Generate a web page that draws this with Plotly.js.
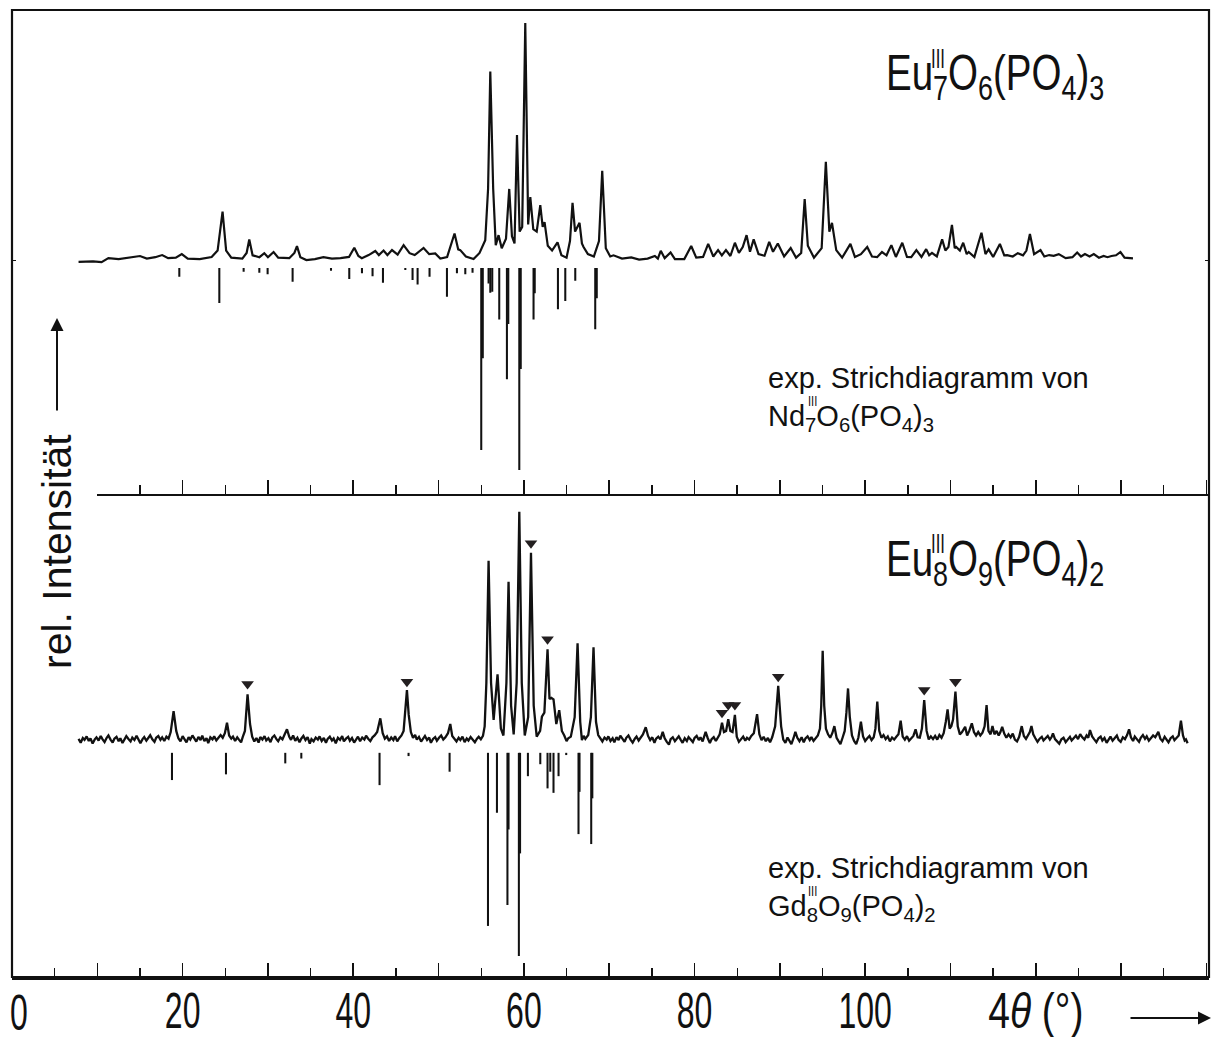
<!DOCTYPE html>
<html><head><meta charset="utf-8">
<script src="https://cdn.plot.ly/plotly-3.0.1.min.js"></script>
<style>html,body{margin:0;padding:0;background:#fff}#chart{width:1212px;height:1037px}</style>
</head><body><div id="chart"></div>
<script>
// ---------------- DATA (4θ in °, relative intensities) ----------------
// measured powder pattern, Eu7O6(PO4)3  [4θ, I]
const topProfile = [
[7.8,-0.8],[9.5,-0.6],[10.5,-0.9],[11.3,0.8],[12.5,0.4],[13.8,1.0],[15.0,1.7],[15.8,0.6],[16.8,1.2],[17.6,2.1],
[18.3,0.8],[19.2,1.0],[19.9,2.5],[20.6,0.6],[22.0,0.4],[23.4,1.3],[24.1,4.0],[24.68,20.4],[25.1,4.0],[25.7,1.0],
[27.0,0.6],[27.5,3.0],[27.81,8.7],[28.2,2.0],[29.0,1.2],[29.57,2.9],[30.0,1.2],[30.66,3.4],[31.2,1.0],[32.5,0.8],
[33.1,3.0],[33.4,5.9],[33.8,1.2],[34.5,0.0],[35.5,0.4],[36.5,1.2],[37.5,0.6],[38.5,0.8],[39.5,1.3],[40.12,5.2],
[40.6,1.7],[41.0,0.8],[41.8,2.1],[42.58,3.8],[43.0,2.1],[43.55,4.0],[44.0,2.1],[44.54,4.2],[45.2,2.3],[45.9,6.3],
[46.6,2.9],[47.2,2.1],[48.24,5.1],[48.9,2.5],[49.61,2.8],[50.2,0.6],[51.0,1.3],[51.87,11.2],[52.3,4.5],[52.54,4.2],
[53.2,1.5],[54.1,0.4],[54.8,3.0],[55.47,8.4],[55.8,30],[56.06,79.5],[56.4,30],[56.7,6.3],[57.03,10.5],[57.4,5.0],
[57.9,9],[58.28,30],[58.6,10],[58.9,7],[59.19,52.7],[59.5,12],[59.8,14],[60.16,100],[60.5,15],[60.75,26.6],
[61.1,13],[61.5,12],[61.92,23.2],[62.2,14],[62.42,16],[62.8,6],[63.3,4],[63.94,7.5],[64.4,2],[65.0,1],
[65.4,8],[65.70,24.1],[66.0,12],[66.52,15.7],[66.8,7],[66.99,5.5],[67.5,2.5],[68.2,1.5],[68.8,8],[69.18,37.7],
[69.6,5],[70.12,1.5],[70.5,2.0],[71.5,0.6],[72.58,1.1],[73.5,0.2],[74.5,0.6],[75.35,1.7],[75.7,0.6],[76.04,3.9],
[76.5,0.8],[77.19,3.2],[77.7,0.4],[78.8,0.4],[79.61,5.9],[80.2,1.0],[81.0,1.3],[81.6,6.8],[82.2,1.5],[82.76,4.2],
[83.2,2.0],[83.68,4.2],[84.2,1.7],[84.73,7.3],[85.2,3.0],[85.65,5.5],[86.10,10.5],[86.5,3.5],[86.93,8.7],[87.5,2.5],
[88.2,1.8],[88.75,7.7],[89.2,3.5],[89.76,7.0],[90.5,1.5],[91.27,5.1],[91.9,1.0],[92.5,3],[92.91,25.7],[93.28,6.0],
[94.0,1.0],[94.9,5],[95.39,41.5],[95.8,12],[96.11,15.7],[96.61,4.2],[97.3,1.0],[98.27,6.8],[98.8,1.3],[99.5,2.5],
[100.24,5.5],[100.8,1.5],[101.4,1.2],[101.97,3.4],[102.5,2.0],[103.07,6.3],[103.6,1.3],[104.35,7.3],[104.9,1.3],[105.4,1.2],
[106.0,4.2],[106.6,1.3],[107.15,4.6],[107.5,2.0],[107.83,3.0],[108.4,1.5],[109.02,8.7],[109.4,4],[109.76,5.5],[110.17,14.8],
[110.5,5],[110.67,5.5],[111.1,4],[111.49,7.3],[111.9,2.5],[112.13,3.4],[112.8,1.3],[113.63,11.5],[114.1,2.5],[114.47,4.5],
[115.0,1.3],[115.79,6.8],[116.3,2.0],[116.64,2.1],[117.3,1.5],[117.89,2.9],[118.5,2.0],[118.9,4],[119.31,11],[119.8,2.5],
[120.55,4.2],[121.0,1.5],[121.56,2.1],[122.1,1.8],[122.69,2.5],[123.5,0.8],[124.3,1.2],[124.85,3.2],[125.3,1.5],[125.76,2.5],
[126.3,1.5],[126.80,2.5],[127.4,1.0],[127.95,1.7],[128.4,1.2],[128.87,1.7],[129.4,2.0],[129.92,3.4],[130.4,1.0],[131.39,0.7]
];
// line diagram Nd7O6(PO4)3  [4θ, I]
const topSticks = [
[19.61,4.3],[24.30,17.3],[27.15,1.8],[28.99,2.3],[29.96,3.1],[32.89,6.8],[37.39,1.3],[39.53,5.4],[41.02,2.6],[42.26,4.0],
[43.48,7.3],[46.10,1.0],[46.95,5.9],[47.54,8.1],[48.94,4.3],[50.98,14.2],[52.15,2.6],[53.13,3.0],[53.98,2.3],[55.00,90.1],
[55.18,44.6],[55.86,7.6],[56.06,12.2],[56.29,11.7],[57.11,25.4],[58.01,55.1],[58.17,27.7],[59.46,100],[59.63,50],[61.13,25.4],
[61.27,12.4],[63.99,20.4],[64.85,16.3],[66.02,6.3],[68.36,30.3],[68.54,14.9]
];
// measured powder pattern, Eu8O9(PO4)2  [4θ, I]
const botProfile = [
[7.8,0.5],[8.05,-1.2],[8.3,0.9],[8.5,0.1],[8.75,1.6],[9.0,-0.4],[9.2,0.7],[9.45,-1.5],[9.7,0.3],[9.9,1.2],
[10.15,-0.2],[10.4,1.8],[10.6,0.4],[10.85,-0.9],[11.1,1.0],[11.3,2.0],[11.55,0.2],[11.8,-1.1],[12.0,0.6],[12.25,1.4],
[12.5,-0.5],[12.7,0.8],[12.95,-1.3],[13.2,0.2],[13.4,1.7],[13.65,0.5],[13.9,-0.6],[14.1,1.1],[14.35,0.0],[14.6,1.9],
[14.8,0.7],[15.05,-1.4],[15.3,0.4],[15.5,1.3],[15.75,-0.3],[16.0,0.9],[16.2,2.1],[16.45,0.3],[16.7,-0.8],[16.9,1.0],
[17.15,1.8],[17.4,0.1],[17.6,1.2],[17.85,-0.4],[18.1,1.5],[18.35,0.6],[18.6,3.5],[18.94,12.7],[19.25,4.0],[19.5,0.8],
[19.75,-0.6],[20.0,1.7],[20.2,0.4],[20.45,-1.0],[20.7,1.3],[20.9,0.2],[21.15,2.0],[21.4,0.5],[21.6,-0.7],[21.85,1.4],
[22.1,0.0],[22.3,1.9],[22.55,-0.5],[22.8,0.8],[23.0,-1.3],[23.25,1.2],[23.5,0.3],[23.7,1.6],[23.95,-0.2],[24.2,1.0],
[24.45,2.2],[24.7,1.0],[24.95,3.0],[25.2,7.6],[25.45,2.0],[25.7,0.6],[25.9,1.5],[26.15,-0.4],[26.4,1.2],[26.6,0.2],
[26.85,-1.0],[27.05,1.4],[27.3,4],[27.61,20.0],[27.9,7],[28.15,1.5],[28.4,-0.6],[28.65,0.9],[28.9,-1.1],[29.1,1.3],
[29.35,0.2],[29.6,1.7],[29.8,-0.2],[30.05,0.8],[30.3,-0.9],[30.5,1.1],[30.75,2.0],[31.0,0.4],[31.2,-0.5],[31.45,1.2],
[31.7,0.3],[31.95,2.4],[32.23,4.7],[32.5,1.4],[32.7,0.1],[32.95,2.0],[33.2,-0.3],[33.45,1.0],[33.7,-1.0],[33.9,0.6],
[34.15,1.8],[34.4,0.0],[34.65,1.3],[34.9,-1.6],[35.1,0.4],[35.35,-0.6],[35.6,1.1],[35.85,0.2],[36.05,1.6],[36.3,-0.4],
[36.55,0.9],[36.8,-1.2],[37.0,0.5],[37.25,1.5],[37.5,-0.2],[37.7,0.7],[37.95,-1.4],[38.2,1.0],[38.45,0.1],[38.7,1.7],
[38.9,-0.6],[39.15,0.6],[39.4,1.4],[39.6,-0.3],[39.85,0.9],[40.1,-1.1],[40.35,0.4],[40.55,1.5],[40.8,-0.5],[41.05,1.1],
[41.3,0.2],[41.5,1.9],[41.75,0.6],[42.0,-0.4],[42.25,1.2],[42.5,2.0],[42.8,3.5],[43.17,9.5],[43.45,3.0],[43.7,0.6],
[43.95,1.6],[44.2,-0.4],[44.45,1.1],[44.7,0.0],[44.9,1.7],[45.15,-0.6],[45.4,0.9],[45.65,2.0],[45.9,4],[46.1,13],
[46.29,21.9],[46.5,11],[46.75,3.5],[47.0,1.0],[47.25,2.2],[47.45,0.2],[47.7,1.4],[47.95,-0.7],[48.2,0.8],[48.4,1.8],
[48.65,0.0],[48.9,1.1],[49.1,-1.2],[49.35,0.5],[49.6,1.3],[49.8,-0.3],[50.05,1.0],[50.3,2.0],[50.55,0.2],[50.8,1.2],
[51.1,3],[51.37,7.0],[51.6,1.8],[51.85,0.3],[52.1,-0.6],[52.35,1.0],[52.55,0.0],[52.8,1.5],[53.05,-0.9],[53.3,0.7],
[53.5,-0.2],[53.75,1.3],[54.0,0.1],[54.25,-1.0],[54.5,0.6],[54.7,1.4],[54.95,0.3],[55.2,1.8],[55.4,6],[55.6,25],
[55.86,78.5],[56.15,25],[56.45,8.8],[56.91,28.8],[57.3,5],[57.6,2.0],[57.95,25],[58.20,69.3],[58.5,15],[58.8,2.5],
[59.15,25],[59.46,100],[59.75,25],[60.1,2.0],[60.5,10],[60.83,82.0],[61.15,15],[61.5,1.5],[61.9,4],[62.11,10.2],
[62.4,12],[62.77,39.7],[63.0,18],[63.21,18.5],[63.47,17.8],[63.8,7],[64.14,13.1],[64.45,4],[64.73,2],[65.0,-0.5],
[65.2,0.8],[65.5,1.5],[65.95,10],[66.29,42.4],[66.6,8],[66.80,0.0],[67.0,1.8],[67.2,0.5],[67.54,2.2],[67.85,10],
[68.16,40.6],[68.45,8],[68.71,2.2],[68.95,0.6],[69.2,-0.6],[69.45,1.1],[69.7,0.2],[69.9,1.6],[70.15,-0.4],[70.4,0.8],
[70.6,-1.0],[70.85,1.3],[71.1,0.0],[71.3,1.9],[71.55,0.4],[71.8,-0.8],[72.0,1.0],[72.25,2.0],[72.5,0.2],[72.75,-1.1],
[73.0,0.6],[73.2,1.5],[73.45,-0.2],[73.7,0.9],[73.95,2.5],[74.28,5.6],[74.55,1.8],[74.8,0.0],[75.05,1.2],[75.3,-1.2],
[75.5,0.6],[75.75,1.5],[76.0,0.3],[76.27,3.6],[76.5,0.8],[76.75,-0.8],[77.0,-2.0],[77.2,0.4],[77.45,1.2],[77.7,-0.5],
[77.9,0.6],[78.15,1.6],[78.4,0.0],[78.6,-1.2],[78.85,0.8],[79.1,-0.4],[79.3,1.3],[79.55,0.2],[79.8,-0.9],[80.0,0.9],
[80.25,1.8],[80.5,0.0],[80.7,1.2],[80.95,-0.6],[81.3,3.6],[81.55,0.8],[81.8,-1.3],[82.0,0.4],[82.25,1.3],[82.5,-0.4],
[82.75,0.9],[82.95,2.5],[83.22,7.6],[83.45,3.5],[83.7,4],[83.95,9.1],[84.2,4],[84.45,3.5],[84.73,11.0],[84.95,1.5],
[85.2,-0.8],[85.45,0.6],[85.7,1.5],[85.95,-0.3],[86.15,1.0],[86.4,0.2],[86.65,1.8],[86.95,3],[87.33,11.3],[87.6,2.5],
[87.85,0.0],[88.1,1.4],[88.35,-0.5],[88.6,0.9],[88.85,-1.0],[89.1,1.2],[89.45,6],[89.81,23.7],[90.15,6],[90.4,0.2],
[90.65,-1.2],[90.9,1.1],[91.1,-0.2],[91.35,-1.8],[91.6,0.8],[91.82,3.6],[92.05,1.0],[92.3,-0.5],[92.55,1.2],[92.8,-1.0],
[93.0,0.7],[93.25,1.6],[93.5,0.0],[93.7,1.3],[93.95,-0.4],[94.2,1.1],[94.45,2.0],[94.7,5],[94.85,15],[95.02,39.1],
[95.2,15],[95.4,5],[95.65,2.5],[95.9,1.0],[96.15,3],[96.39,6.1],[96.65,1.0],[96.9,-0.6],[97.1,-1.8],[97.35,1.0],
[97.6,4],[97.8,12],[97.99,22.6],[98.2,10],[98.45,2.0],[98.7,-0.4],[98.95,-1.8],[99.2,1.0],[99.50,8.0],[99.75,1.6],
[100.0,-0.4],[100.25,0.8],[100.5,1.8],[100.75,0.0],[101.0,1.2],[101.2,5],[101.42,16.8],[101.65,4],[101.9,1.0],[102.15,2.2],
[102.4,0.4],[102.65,1.6],[102.9,-0.6],[103.15,1.1],[103.4,0.2],[103.65,1.4],[103.9,2.5],[104.16,8.5],[104.4,1.5],[104.65,0.2],
[104.9,1.7],[105.15,-0.3],[105.4,0.9],[105.65,1.8],[105.91,4.7],[106.15,1.2],[106.4,1.0],[106.65,5],[106.92,17.5],[107.2,4],
[107.45,0.3],[107.7,1.6],[107.95,0.4],[108.2,1.8],[108.45,0.2],[108.7,2.2],[108.95,1.0],[109.2,3],[109.45,8],[109.66,13.4],
[109.9,5],[110.1,6],[110.3,9],[110.58,21.2],[110.85,6],[111.1,2.5],[111.35,3.5],[111.72,5.8],[111.95,2.0],[112.2,4.0],
[112.50,7.3],[112.75,3.5],[113.0,2.0],[113.25,3.5],[113.5,2.0],[113.75,3.2],[114.0,6],[114.23,15.3],[114.45,4],[114.7,2.5],
[114.92,6.1],[115.15,2.5],[115.4,4.0],[115.65,2.0],[115.85,3.5],[116.06,5.8],[116.3,2.8],[116.55,1.0],[116.8,2.5],[117.05,1.2],
[117.3,2.8],[117.55,0.2],[117.8,-0.6],[118.05,1.4],[118.35,6.1],[118.6,1.8],[118.85,0.5],[119.1,2.2],[119.3,3.5],[119.49,6.1],
[119.7,2.5],[119.95,0.8],[120.2,-0.8],[120.45,0.6],[120.7,1.4],[120.9,-0.2],[121.15,0.8],[121.4,1.8],[121.65,0.2],[121.85,1.3],
[122.01,2.9],[122.25,0.4],[122.5,-0.6],[122.75,-1.6],[123.0,0.3],[123.25,1.0],[123.5,-0.9],[123.75,0.5],[124.0,1.4],[124.2,-0.2],
[124.45,0.8],[124.7,1.9],[124.95,0.4],[125.2,2.6],[125.45,1.2],[125.7,0.2],[125.95,2.0],[126.15,1.0],[126.35,4.4],[126.6,1.6],
[126.85,0.3],[127.1,-0.9],[127.35,0.8],[127.6,1.5],[127.8,-0.2],[128.05,0.9],[128.3,-1.2],[128.55,0.4],[128.75,1.5],[129.0,-0.3],
[129.25,0.9],[129.5,2.0],[129.7,0.1],[129.95,-0.8],[130.2,1.2],[130.45,0.4],[130.7,2.2],[130.93,4.7],[131.15,1.2],[131.4,-0.4],
[131.6,1.5],[131.85,0.2],[132.1,-0.8],[132.3,1.0],[132.55,2.2],[132.8,0.5],[133.0,1.6],[133.25,-0.3],[133.5,0.9],[133.75,2.0],
[134.0,1.2],[134.2,2.6],[134.36,3.6],[134.6,0.6],[134.85,-0.5],[135.1,1.4],[135.3,0.2],[135.55,-1.0],[135.8,0.8],[136.05,1.6],
[136.25,-0.1],[136.5,0.9],[136.75,2.0],[137.01,8.5],[137.25,2.0],[137.45,-0.2],[137.6,0.3],[137.79,-1.4]
];
// line diagram Gd8O9(PO4)2  [4θ, I]
const botSticks = [
[18.75,13.4],[25.08,10.6],[32.03,5.2],[33.91,2.8],[43.08,15.9],[46.48,1.6],[51.29,9.3],[55.79,85.2],[56.84,29.5],[58.07,74.9],
[58.20,37.7],[59.41,100],[59.55,49.5],[60.47,11.5],[61.92,5.6],[62.77,17.5],[63.09,9.3],[63.47,19.7],[64.06,11.5],[64.96,1.1],
[66.40,40.0],[66.52,19.2],[67.89,44.9],[68.02,22.4]
];
// reflections marked with ▼ (foreign phase)  [4θ, I]
const markedPeaks = [
[27.61,24.5],[46.29,25.5],[60.83,86.2],[62.77,44.1],[83.22,12.0],[83.95,15.3],[84.73,15.3],[89.81,27.7],[106.92,21.9],[110.58,25.5]
];
// axis ticks
const xTickVals = [0,10,20,30,40,50,60,70,80,90,100,110,120,130,140];
const xTickText = ['','','20','','40','','60','','80','','100','','4<i>θ</i> (°)','',''];

// ---------------- DRAWING ----------------
const INK = '#111';
const SANS = '"Liberation Sans",Arial,Helvetica,sans-serif';
const col = (a, i) => a.map(r => r[i]);

// vertical placement of the line diagrams under each pattern (display only)
const topStickBase = -3.4, topStickScale = 0.852;
const botStickBase = -5.6, botStickScale = 0.89;

const traces = [
  {type:'scatter', mode:'lines', x: col(topProfile,0), y: col(topProfile,1), xaxis:'x', yaxis:'y2',
   line:{color:INK, width:2.2}, hoverinfo:'skip'},
  {type:'bar', x: col(topSticks,0), y: col(topSticks,1).map(v => -v*topStickScale), base: topStickBase,
   width: 0.24, xaxis:'x2', yaxis:'y2', marker:{color:INK, line:{width:0}}, hoverinfo:'skip'},
  {type:'scatter', mode:'lines', x: col(botProfile,0), y: col(botProfile,1), xaxis:'x', yaxis:'y',
   line:{color:INK, width:2.3}, hoverinfo:'skip'},
  {type:'bar', x: col(botSticks,0), y: col(botSticks,1).map(v => -v*botStickScale), base: botStickBase,
   width: 0.24, xaxis:'x', yaxis:'y', marker:{color:INK, line:{width:0}}, hoverinfo:'skip'},
  {type:'scatter', mode:'markers', x: col(markedPeaks,0), y: col(markedPeaks,1), xaxis:'x', yaxis:'y',
   marker:{symbol:'triangle-down', size:11, color:'#231f20'}, hoverinfo:'skip'}
];

const W = 1212, H = 1037, ML = 12, MR = 3, MT = 10, MB = 60;
const PW = W - ML - MR, PH = H - MT - MB;
const px = (x) => (x - ML) / PW;
const py = (y) => (H - MB - y) / PH;

// horizontal squeeze factors (the original uses a condensed face)
const squeezeOf = [];
function ann(text, x, y, size, opts, squeeze) {
  squeezeOf.push(squeeze || 1);
  return Object.assign({text, xref:'paper', yref:'paper', x: px(x), y: py(y), showarrow:false,
    xanchor:'left', yanchor:'middle', font:{family:SANS, size, color:INK}}, opts || {});
}

const tickCommon = {
  ticks:'inside', ticklen:14, tickwidth:1.6, tickcolor:INK,
  showline:true, linewidth:2.5, linecolor:INK, showgrid:false, zeroline:false,
  tickmode:'array', tickvals:xTickVals,
  minor:{ticks:'inside', ticklen:9, tickwidth:1.4, tickcolor:INK, tickmode:'linear', tick0:0, dtick:5, showgrid:false}
};

const annotations = [
  ann('Eu<sub>7</sub>O<sub>6</sub>(PO<sub>4</sub>)<sub>3</sub>', 884, 77, 50, null, 0.77),
  ann('III', 929, 59, 27, null, 0.62),
  ann('Eu<sub>8</sub>O<sub>9</sub>(PO<sub>4</sub>)<sub>2</sub>', 884, 562, 50, null, 0.77),
  ann('III', 929, 544, 27, null, 0.62),
  ann('exp. Strichdiagramm von<br>Nd<sub>7</sub>O<sub>6</sub>(PO<sub>4</sub>)<sub>3</sub>', 766, 399, 29, {align:'left'}),
  ann('III', 806, 401, 14, null, 0.8),
  ann('exp. Strichdiagramm von<br>Gd<sub>8</sub>O<sub>9</sub>(PO<sub>4</sub>)<sub>2</sub>', 766, 889, 29, {align:'left'}),
  ann('III', 806, 891, 14, null, 0.8),
  ann('rel. Intensität', 57, 552, 41, {textangle:-90, xanchor:'center', yanchor:'middle'}),
  ann('0', 19, 1013, 50, {xanchor:'center'}, 0.64)
];
annotations.push(
  {xref:'paper', yref:'paper', x: px(57), y: py(318), ax:0, ay:94, axref:'pixel', ayref:'pixel', text:'',
   showarrow:true, arrowhead:2, arrowsize:1.3, arrowwidth:2, arrowcolor:INK},
  {xref:'paper', yref:'paper', x: px(1211), y: py(1018), ax:-82, ay:0, axref:'pixel', ayref:'pixel', text:'',
   showarrow:true, arrowhead:2, arrowsize:1.3, arrowwidth:2, arrowcolor:INK}
);

const layout = {
  width:W, height:H, margin:{l:ML, r:MR, t:MT, b:MB, pad:0},
  paper_bgcolor:'#fff', plot_bgcolor:'rgba(0,0,0,0)', showlegend:false, barmode:'overlay',
  xaxis: Object.assign({}, tickCommon, {domain:[0,1], range:[0,140.3], anchor:'y',
    ticktext:xTickText, tickfont:{family:SANS, size:50, color:INK}, ticklabelstandoff:-11}),
  xaxis2: Object.assign({}, tickCommon, {domain:[10/140.3,1], range:[10,140.3], anchor:'y2',
    showticklabels:false}),
  yaxis: {domain:[0,0.5], range:[-103.8,108], visible:false, fixedrange:true},
  yaxis2: {domain:[0.5,1], range:[-98.5,105.5], anchor:'x', showline:false, showgrid:false, zeroline:false,
    tickmode:'array', tickvals:[0], ticks:'inside', ticklen:4, tickcolor:INK, showticklabels:false, mirror:'ticks'},
  shapes:[{type:'rect', xref:'paper', yref:'paper', x0:0, x1:1, y0:0, y1:1, line:{color:INK, width:2.2}, layer:'above'}],
  annotations
};

function squeeze(el, s, where) {
  const bb = el.getBBox();
  const cx = where === 'left' ? bb.x : bb.x + bb.width / 2;
  const t = el.getAttribute('transform') || '';
  el.setAttribute('transform', t + ' translate(' + cx + ',0) scale(' + s + ',1) translate(' + (-cx) + ',0)');
}

Plotly.newPlot('chart', traces, layout, {staticPlot:true, displayModeBar:false}).then(gd => {
  gd.querySelectorAll('.xtick text').forEach(el => {
    const t = el.textContent.trim();
    if (t) squeeze(el, t.indexOf('θ') >= 0 ? 0.78 : 0.64, 'middle');
  });
  gd.querySelectorAll('.annotation').forEach(g => {
    const i = +g.getAttribute('data-index');
    const s = squeezeOf[i];
    const el = g.querySelector('text.annotation-text');
    if (el && s && s !== 1) squeeze(el, s, annotations[i].xanchor === 'center' ? 'middle' : 'left');
  });
});
</script></body></html>
